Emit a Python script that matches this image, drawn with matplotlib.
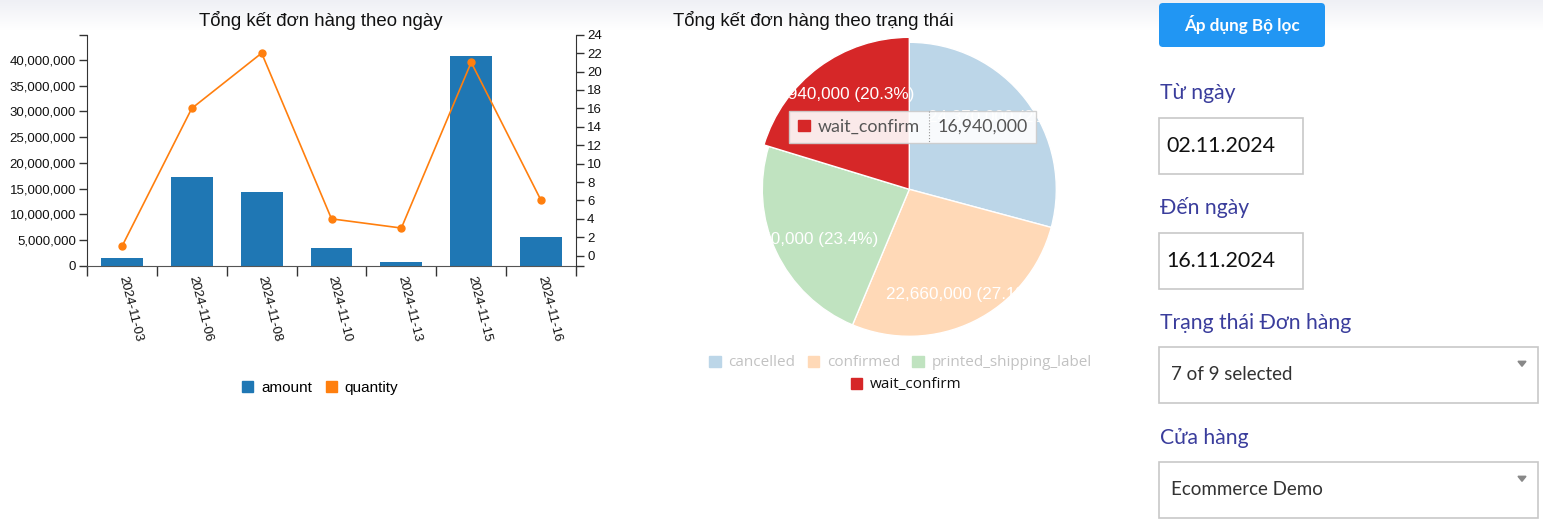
import numpy as np
import matplotlib.pyplot as plt
from matplotlib.patches import Patch, Rectangle, FancyBboxPatch, Polygon
from matplotlib.ticker import FuncFormatter, MultipleLocator

W, H = 1543, 524

# dữ liệu biểu đồ theo ngày
dates = ["2024-11-03", "2024-11-06", "2024-11-08", "2024-11-10",
         "2024-11-13", "2024-11-15", "2024-11-16"]
amount = [1500000, 17240000, 14320000, 3430000, 710000, 40760000, 5570000]
quantity = [1, 16, 22, 4, 3, 21, 6]

# dữ liệu biểu đồ theo trạng thái
statuses = ["cancelled", "confirmed", "printed_shipping_label", "wait_confirm"]
status_amount = [24370000, 22660000, 19550000, 16940000]
status_colors = ["#bcd6e8", "#ffd9b7", "#c0e3c0", "#d62728"]
legend_text_colors = ["#c2c2c2", "#c2c2c2", "#c2c2c2", "#111111"]
hover_status = "wait_confirm"

# bộ lọc bên phải
filter_labels = ["Từ ngày", "Đến ngày", "Trạng thái Đơn hàng", "Cửa hàng"]
filter_values = ["02.11.2024", "16.11.2024", "7 of 9 selected", "Ecommerce Demo"]
button_text = "Áp dụng Bộ lọc"

CHART_FONT = "Liberation Sans"
FORM_FONT = "Lato"


def box(x0, y0, x1, y1):
    # pixel box (top-left origin) -> figure fraction
    return [x0 / W, 1 - y1 / H, (x1 - x0) / W, (y1 - y0) / H]


fig = plt.figure(figsize=(W / 100, H / 100), dpi=100)

# nền + dải gradient phía trên
bg = fig.add_axes([0, 0, 1, 1], zorder=0)
bg.set_xlim(0, W)
bg.set_ylim(H, 0)
bg.axis("off")
grad = np.linspace(0, 1, 64)[:, None]
c_top = np.array([0.937, 0.941, 0.961])
c_bot = np.array([1.0, 1.0, 1.0])
img = c_top[None, None, :] * (1 - grad[..., None]) + c_bot[None, None, :] * grad[..., None]
bg.imshow(np.repeat(img, 2, axis=1), extent=(0, W, 30, 0), aspect="auto", zorder=0)

# ---- biểu đồ cột + đường
x = np.arange(len(dates))
ax = fig.add_axes(box(87, 34.7, 576, 265.7), zorder=2)
ax.set_facecolor("none")
ax.bar(x, amount, width=0.6, color="#1f77b4")
ax.set_xlim(-0.5, len(dates) - 0.5)
ax.set_ylim(0, 44.9e6)
ax.yaxis.set_major_locator(MultipleLocator(5e6))
ax.yaxis.set_major_formatter(FuncFormatter(lambda v, p: f"{v:,.0f}"))
ax.set_yticks([44.9e6], minor=True)
ax.tick_params(axis="y", which="both", length=6, width=1, color="#333",
               labelsize=9.5, pad=2, labelcolor="#111")
ax.set_xticks(x, dates)
ax.set_xticks(np.arange(-0.5, len(dates)), minor=True)
ax.tick_params(axis="x", which="major", length=0, pad=7.5, labelsize=9.5, labelcolor="#111")
ax.tick_params(axis="x", which="minor", length=7, width=1, color="#333")
for lbl in ax.get_xticklabels():
    lbl.set_rotation(-76)
    lbl.set_ha("left")
    lbl.set_va("center")
    lbl.set_rotation_mode("anchor")
for lbl in ax.get_yticklabels():
    lbl.set_fontfamily(CHART_FONT)
for lbl in ax.get_xticklabels():
    lbl.set_fontfamily(CHART_FONT)
ax.spines["top"].set_visible(False)
ax.spines["right"].set_visible(False)
ax.spines["left"].set_color("#333")
ax.spines["bottom"].set_color("#555")

ax2 = ax.twinx()
ax2.set_facecolor("none")
ax2.plot(x, quantity, color="#ff7f0e", lw=1.2, marker="o", ms=5)
ax2.set_ylim(-1.09, 24)
ax2.yaxis.set_major_locator(MultipleLocator(2))
ax2.set_yticks([-1.09], minor=True)
ax2.tick_params(axis="y", which="both", length=6, width=1, color="#333",
                labelsize=9.5, pad=2, labelcolor="#111")
for lbl in ax2.get_yticklabels():
    lbl.set_fontfamily(CHART_FONT)
for s in ["top", "left", "bottom"]:
    ax2.spines[s].set_visible(False)
ax2.spines["right"].set_color("#333")

fig.text(321 / W, 1 - 20 / H, "Tổng kết đơn hàng theo ngày", ha="center", va="center",
         fontsize=13.4, family=CHART_FONT, color="#111")
fig.legend(handles=[Patch(color="#1f77b4", label="amount"),
                    Patch(color="#ff7f0e", label="quantity")],
           loc="center", bbox_to_anchor=(320 / W, 1 - 388 / H), ncol=2, frameon=False,
           handlelength=0.75, handleheight=0.75, handletextpad=0.5, columnspacing=0.9,
           borderpad=0, prop={"family": CHART_FONT, "size": 11})

# ---- biểu đồ tròn
cx, cy, R = 909.3, 189.3, 147.0
pax = fig.add_axes(box(cx - 160, cy - 160, cx + 160, cy + 160), zorder=3)
vals = iter(status_amount)
wedges, texts, autotexts = pax.pie(
    status_amount, colors=status_colors, startangle=90, counterclock=False,
    autopct=lambda p: f"{next(vals):,} ({p:.1f}%)", pctdistance=0.8,
    wedgeprops=dict(edgecolor="white", linewidth=1),
    textprops=dict(color="white", fontsize=12.3, family=CHART_FONT))
wedges[statuses.index(hover_status)].set_radius(152 / R)
pax.set_xlim(-160 / R, 160 / R)
pax.set_ylim(-160 / R, 160 / R)
pax.axis("off")

fig.text(813 / W, 1 - 20 / H, "Tổng kết đơn hàng theo trạng thái", ha="center", va="center",
         fontsize=13.4, family=CHART_FONT, color="#111")

leg1 = fig.legend(handles=[Patch(color=c, label=s) for c, s in zip(status_colors[:3], statuses[:3])],
                  loc="center", bbox_to_anchor=(900.5 / W, 1 - 363 / H), ncol=3, frameon=False,
                  handlelength=0.75, handleheight=0.75, handletextpad=0.5, columnspacing=0.8,
                  borderpad=0, prop={"family": "Open Sans", "size": 11})
for t, c in zip(leg1.get_texts(), legend_text_colors[:3]):
    t.set_color(c)
leg2 = fig.legend(handles=[Patch(color=status_colors[3], label=statuses[3])],
                  loc="center", bbox_to_anchor=(906 / W, 1 - 385 / H), frameon=False,
                  handlelength=0.75, handleheight=0.75, handletextpad=0.5,
                  borderpad=0, prop={"family": "Open Sans", "size": 11})
leg2.get_texts()[0].set_color(legend_text_colors[3])

# ---- lớp phủ: tooltip + bộ lọc
ov = fig.add_axes([0, 0, 1, 1], zorder=10)
ov.set_facecolor("none")
ov.set_xlim(0, W)
ov.set_ylim(H, 0)
ov.axis("off")

hi = statuses.index(hover_status)
ov.add_patch(Rectangle((789.3, 110.7), 246.7, 32.6, facecolor="white", alpha=0.9,
                       edgecolor="#cccccc", lw=1))
ov.plot([929.3, 929.3], [110.7, 143.3], color="#999", lw=0.8, ls=":")
ov.add_patch(Rectangle((798, 120), 12, 11, color=status_colors[hi]))
ov.text(818, 127, hover_status, ha="left", va="center", fontsize=12.8,
        family=FORM_FONT, color="#555")
ov.text(937.7, 127, f"{status_amount[hi]:,}", ha="left", va="center", fontsize=12.8,
        family=FORM_FONT, color="#555")

ov.add_patch(FancyBboxPatch((1159, 3), 166, 44, boxstyle="round,pad=0,rounding_size=4",
                            facecolor="#2196f3", edgecolor="none"))
ov.text(1242, 25, button_text, ha="center", va="center", fontsize=12.3, weight="bold",
        family=FORM_FONT, color="white")

label_y = [93, 208, 323, 438]
box_y = [118, 232.7, 347.3, 462.3]
box_w = [143.4, 143.4, 378.4, 378.4]
for i, (lab, val) in enumerate(zip(filter_labels, filter_values)):
    ov.text(1160, label_y[i], lab, ha="left", va="center", fontsize=15.2,
            family=FORM_FONT, color="#3a3d9c")
    ov.add_patch(Rectangle((1159.3, box_y[i]), box_w[i], 56, facecolor="white",
                           edgecolor="#c8c8c8", lw=1.2))
    if i < 2:
        ov.text(1166, box_y[i] + 28, val, ha="left", va="center", fontsize=15.4,
                family=FORM_FONT, color="#111")
    else:
        ov.text(1171, box_y[i] + 27, val, ha="left", va="center", fontsize=13.5,
                family=FORM_FONT, color="#333")
        ov.add_patch(Polygon([(1518, box_y[i] + 14), (1526, box_y[i] + 14),
                              (1522, box_y[i] + 19)], closed=True, color="#888"))

fig.savefig("out.png", dpi=100)
